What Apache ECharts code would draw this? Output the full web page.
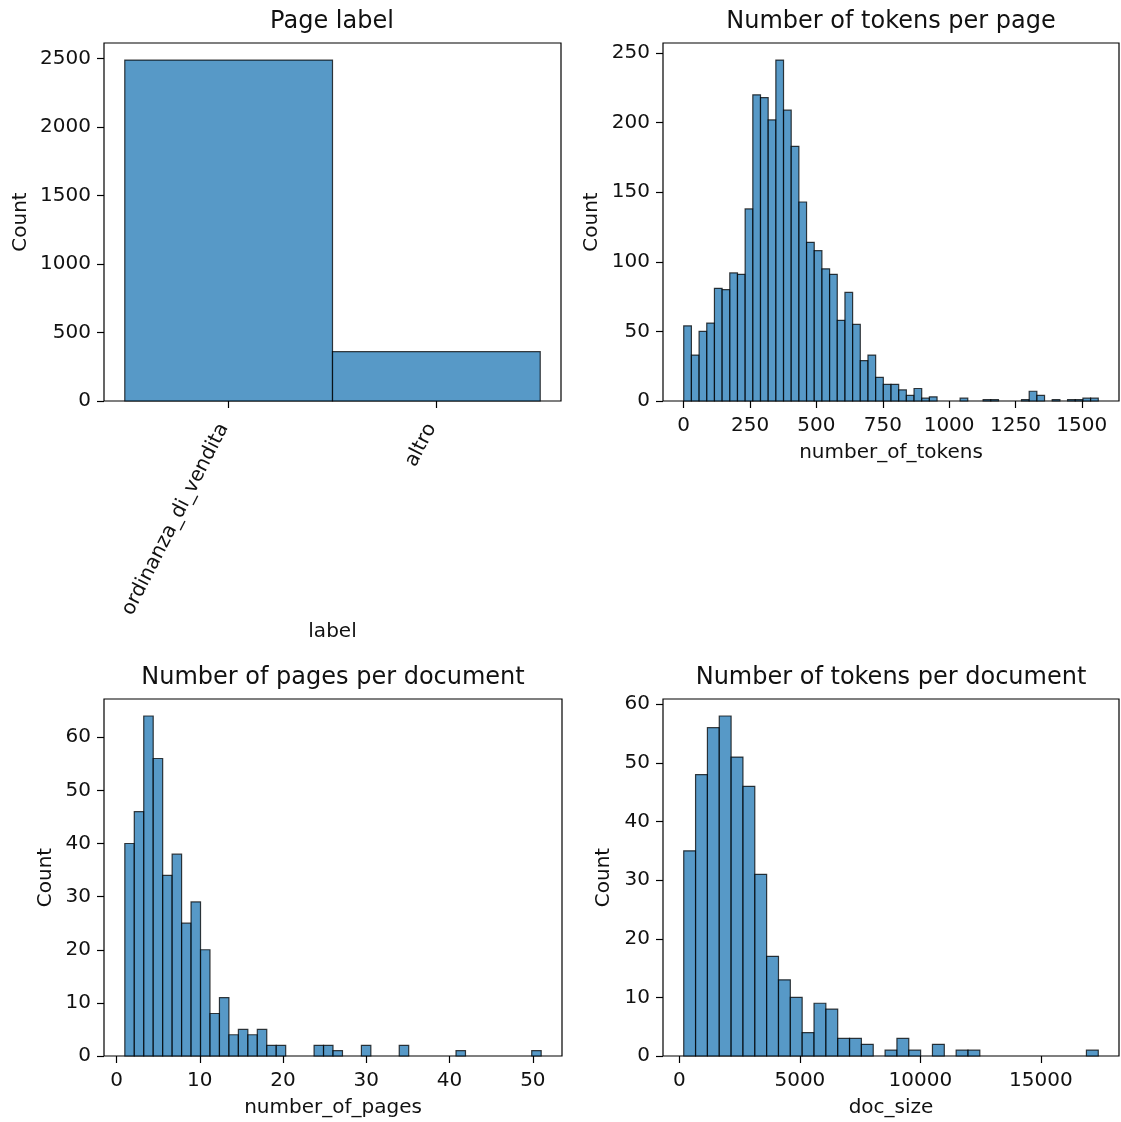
<!DOCTYPE html>
<html>
<head>
<meta charset="utf-8">
<script src="https://cdn.jsdelivr.net/npm/echarts@6/dist/echarts.min.js"></script>
<style>
  html, body { margin: 0; padding: 0; background: #fff; }
  #chart { width: 1121px; height: 1122px; }
</style>
</head>
<body>
<div id="chart"></div>
<script>
// ---- Page label counts ----
const labelCategories = ['ordinanza_di_vendita', 'altro'];
const labelCounts = [2490, 360];
const labelYTicks = [0, 500, 1000, 1500, 2000, 2500];

// ---- Tokens per page histogram (54 bins over 0..1562) ----
const tokensRange = [0, 1562];
const tokensCounts = [
  54, 33, 50, 56, 81, 80, 92, 91, 138, 220,
  218, 202, 245, 209, 183, 143, 114, 108, 95, 91,
  58, 78, 55, 29, 33, 17, 12, 12, 8, 4,
  9, 2, 3, 0, 0, 0, 2, 0, 0, 1,
  1, 0, 0, 0, 1, 7, 4, 0, 1, 0,
  1, 1, 2, 2
];
const tokensXTicks = [0, 250, 500, 750, 1000, 1250, 1500];
const tokensYTicks = [0, 50, 100, 150, 200, 250];

// ---- Pages per document histogram (44 bins over 1..51) ----
const pagesRange = [1, 51];
const pagesCounts = [
  40, 46, 64, 56, 34, 38, 25, 29, 20, 8,
  11, 4, 5, 4, 5, 2, 2, 0, 0, 0,
  2, 2, 1, 0, 0, 2, 0, 0, 0, 2,
  0, 0, 0, 0, 0, 1, 0, 0, 0, 0,
  0, 0, 0, 1
];
const pagesXTicks = [0, 10, 20, 30, 40, 50];
const pagesYTicks = [0, 10, 20, 30, 40, 50, 60];

// ---- Tokens per document histogram (35 bins over 180..17380) ----
const docRange = [180, 17380];
const docCounts = [
  35, 48, 56, 58, 51, 46, 31, 17, 13, 10,
  4, 9, 8, 3, 3, 2, 0, 1, 3, 1,
  0, 2, 0, 1, 1, 0, 0, 0, 0, 0,
  0, 0, 0, 0, 1
];
const docXTicks = [0, 5000, 10000, 15000];
const docYTicks = [0, 10, 20, 30, 40, 50, 60];

const FONT = 'DejaVu Sans';
const BAR_FILL = 'rgba(31,119,180,0.75)';
const BAR_EDGE = 'rgba(0,0,0,0.75)';
const INK = '#111';

// histogram rows: [binStart, binEnd, count]
function binRows(range, counts) {
  const w = (range[1] - range[0]) / counts.length;
  const rows = [];
  counts.forEach((c, i) => {
    if (c > 0) rows.push([range[0] + i * w, range[0] + (i + 1) * w, c]);
  });
  return rows;
}
// padded extent (5% each side), like the default autoscale margins
function padded(lo, hi) {
  const m = (hi - lo) * 0.05;
  return [lo - m, hi + m];
}

function renderBin(params, api) {
  const p0 = api.coord([api.value(0), api.value(2)]);
  const p1 = api.coord([api.value(1), 0]);
  return {
    type: 'rect',
    shape: { x: p0[0], y: p0[1], width: p1[0] - p0[0], height: p1[1] - p0[1] },
    style: { fill: BAR_FILL, stroke: BAR_EDGE, lineWidth: 1.2 }
  };
}

const grids = [
  { left: 104, top: 43, width: 457, height: 358 },
  { left: 663, top: 43, width: 456, height: 358 },
  { left: 104, top: 699, width: 458, height: 357 },
  { left: 663, top: 699, width: 456, height: 357 }
].map(g => Object.assign(g, { show: true, borderColor: '#000', borderWidth: 1.2, backgroundColor: 'transparent' }));

function valueAxis(opts) {
  return {
    type: 'value',
    gridIndex: opts.grid,
    position: opts.position,
    min: opts.min,
    max: opts.max,
    name: opts.name,
    nameLocation: 'middle',
    nameGap: opts.nameGap,
    nameRotate: opts.nameRotate,
    nameTextStyle: { fontFamily: FONT, fontSize: 20, color: INK },
    axisLine: { show: false, onZero: false },
    splitLine: { show: false },
    axisTick: { show: true, length: 7, customValues: opts.ticks, lineStyle: { color: '#000', width: 1.2 } },
    axisLabel: {
      show: true,
      customValues: opts.ticks,
      margin: opts.margin || 13,
      rotate: opts.rotate || 0,
      padding: opts.padding || 0,
      fontFamily: FONT, fontSize: 20, color: INK,
      formatter: opts.formatter || (v => String(v)),
      showMinLabel: true, showMaxLabel: true, hideOverlap: false
    }
  };
}

const labelX = padded(-0.5, labelCounts.length - 0.5);
const tokX = padded(tokensRange[0], tokensRange[1]);
const pagX = padded(pagesRange[0], pagesRange[1]);
const docX = padded(docRange[0], docRange[1]);

const option = {
  animation: false,
  backgroundColor: '#fff',
  title: [
    { text: 'Page label', left: 332, top: 10 },
    { text: 'Number of tokens per page', left: 891, top: 10 },
    { text: 'Number of pages per document', left: 333, top: 666 },
    { text: 'Number of tokens per document', left: 891, top: 666 }
  ].map(t => Object.assign(t, {
    textAlign: 'center', padding: 0,
    textStyle: { fontFamily: FONT, fontSize: 24, fontWeight: 'normal', color: INK }
  })),
  grid: grids,
  xAxis: [
    valueAxis({ grid: 0, position: 'bottom', min: labelX[0], max: labelX[1], ticks: [0, 1], name: 'label', nameGap: 221,
      rotate: 63, margin: 14, padding: [0, 11, 0, 0], formatter: v => labelCategories[Math.round(v)] }),
    valueAxis({ grid: 1, position: 'bottom', min: tokX[0], max: tokX[1], ticks: tokensXTicks, name: 'number_of_tokens', nameGap: 42, margin: 15 }),
    valueAxis({ grid: 2, position: 'bottom', min: pagX[0], max: pagX[1], ticks: pagesXTicks, name: 'number_of_pages', nameGap: 42, margin: 15 }),
    valueAxis({ grid: 3, position: 'bottom', min: docX[0], max: docX[1], ticks: docXTicks, name: 'doc_size', nameGap: 42, margin: 15 })
  ],
  yAxis: [
    valueAxis({ grid: 0, position: 'left', min: 0, max: Math.max(...labelCounts) * 1.05, ticks: labelYTicks, name: 'Count', nameGap: 73, nameRotate: 90 }),
    valueAxis({ grid: 1, position: 'left', min: 0, max: Math.max(...tokensCounts) * 1.05, ticks: tokensYTicks, name: 'Count', nameGap: 61, nameRotate: 90 }),
    valueAxis({ grid: 2, position: 'left', min: 0, max: Math.max(...pagesCounts) * 1.05, ticks: pagesYTicks, name: 'Count', nameGap: 48, nameRotate: 90 }),
    valueAxis({ grid: 3, position: 'left', min: 0, max: Math.max(...docCounts) * 1.05, ticks: docYTicks, name: 'Count', nameGap: 49, nameRotate: 90 })
  ],
  series: [
    { type: 'custom', xAxisIndex: 0, yAxisIndex: 0, renderItem: renderBin,
      data: labelCounts.map((c, i) => [i - 0.5, i + 0.5, c]) },
    { type: 'custom', xAxisIndex: 1, yAxisIndex: 1, renderItem: renderBin, data: binRows(tokensRange, tokensCounts) },
    { type: 'custom', xAxisIndex: 2, yAxisIndex: 2, renderItem: renderBin, data: binRows(pagesRange, pagesCounts) },
    { type: 'custom', xAxisIndex: 3, yAxisIndex: 3, renderItem: renderBin, data: binRows(docRange, docCounts) }
  ]
};

const chart = echarts.init(document.getElementById('chart'), null, { renderer: 'canvas' });
chart.setOption(option);
</script>
</body>
</html>
